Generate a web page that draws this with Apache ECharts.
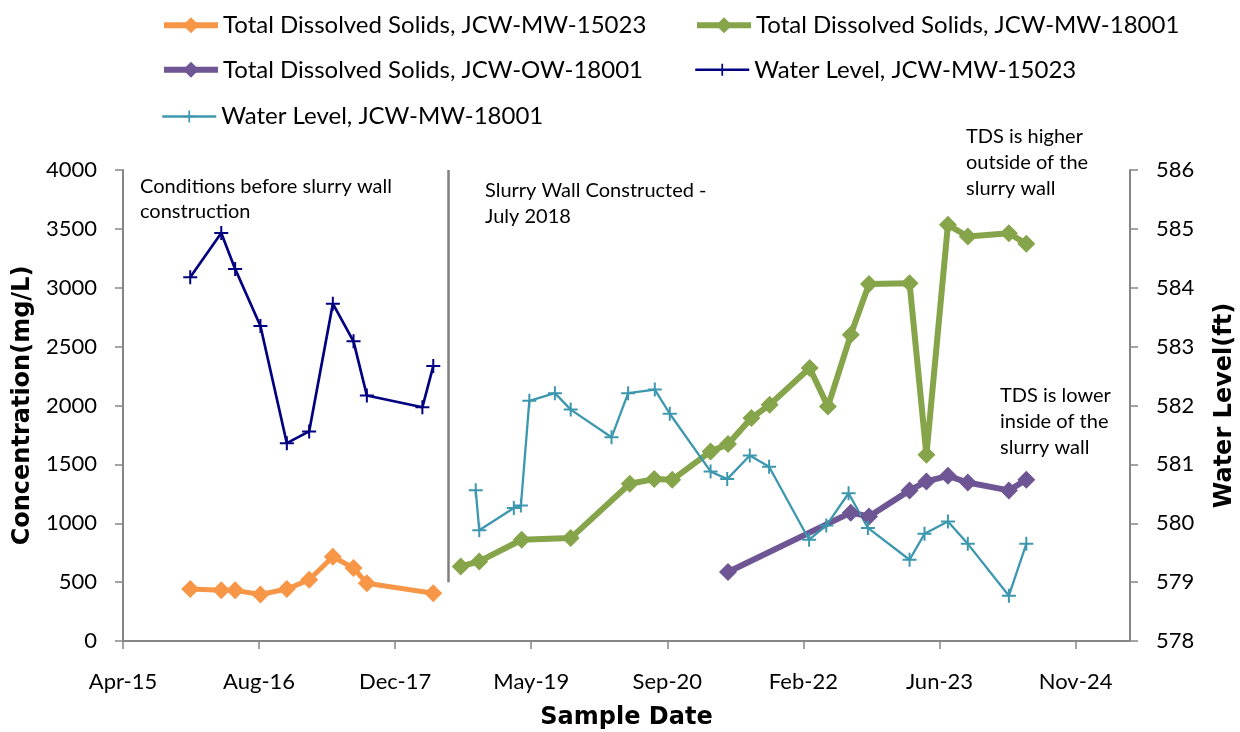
<!DOCTYPE html>
<html><head><meta charset="utf-8">
<script src="https://cdn.jsdelivr.net/npm/echarts@6/dist/echarts.min.js"></script>
<style>html,body{margin:0;padding:0;background:#fff}#c{width:1240px;height:732px}</style>
</head><body><div id="c"></div>
<script>
// ---- data ----
const tdsMW15023Dates = ['2015-12-09','2016-04-01','2016-05-22','2016-08-23','2016-11-28','2017-02-18','2017-05-16','2017-07-31','2017-09-18','2018-05-20'];
const tdsMW15023 = [441,430,430,395,441,520,715,620,490,405];

const tdsMW18001Dates = ['2018-08-29','2018-11-05','2019-04-10','2019-10-07','2020-05-11','2020-08-09','2020-10-14','2021-03-04','2021-05-07','2021-08-01','2021-10-07','2022-03-03','2022-05-09','2022-08-01','2022-10-07','2023-03-05','2023-05-06','2023-07-24','2023-10-05','2024-03-04','2024-05-07'];
const tdsMW18001 = [633,676,860,874,1335,1375,1369,1610,1672,1893,2006,2318,1991,2600,3031,3039,1581,3534,3435,3463,3373];

const tdsOW18001Dates = ['2021-05-07','2022-08-01','2022-10-07','2023-03-05','2023-05-06','2023-07-24','2023-10-05','2024-03-04','2024-05-07'];
const tdsOW18001 = [586,1090,1058,1279,1355,1403,1346,1279,1369];

const wlMW15023Dates = ['2015-12-09','2016-04-01','2016-05-22','2016-08-23','2016-11-28','2017-02-18','2017-05-16','2017-07-31','2017-09-18','2018-04-10','2018-05-20'];
const wlMW15023 = [584.18,584.93,584.32,583.35,581.36,581.56,583.73,583.09,582.17,581.97,582.67];

const wlMW18001Dates = ['2018-10-23','2018-11-05','2019-03-12','2019-04-07','2019-05-08','2019-08-10','2019-10-07','2020-03-05','2020-05-05','2020-08-11','2020-10-05','2021-03-04','2021-05-04','2021-07-26','2021-10-05','2022-03-01','2022-05-03','2022-07-24','2022-10-03','2023-03-05','2023-04-29','2023-07-24','2023-10-05','2024-03-04','2024-05-07'];
const wlMW18001 = [580.56,579.88,580.26,580.30,582.08,582.21,581.93,581.46,582.21,582.27,581.86,580.88,580.75,581.15,580.96,579.72,579.96,580.51,579.92,579.38,579.82,580.03,579.65,578.77,579.65];

const slurryWallDate = '2018-07-14';
const slurryWallRange = [500, 4000];

const seriesNames = ['Total Dissolved Solids, JCW-MW-15023','Total Dissolved Solids, JCW-MW-18001','Total Dissolved Solids, JCW-OW-18001','Water Level, JCW-MW-15023','Water Level, JCW-MW-18001'];
const axisStartDate = '2015-04-06';   // Apr-15 tick
const axisSpanDays = 3700;
const tickStepDays = 500;
const concTicks = [0, 4000, 500];
const levelTicks = [578, 586, 1];

// ---- helpers ----
const DAY = 86400000;
function utc(s){const p=s.split('-').map(Number);return Date.UTC(p[0],p[1]-1,p[2]);}
const base = utc(axisStartDate);
function dayOf(s){return Math.round((utc(s)-base)/DAY);}
function zip(d,v){return d.map((s,i)=>[dayOf(s),v[i]]);}
const MON=['Jan','Feb','Mar','Apr','May','Jun','Jul','Aug','Sep','Oct','Nov','Dec'];
function fmt(v){const d=new Date(base+v*DAY);return MON[d.getUTCMonth()]+'-'+String(d.getUTCFullYear()%100).padStart(2,'0');}
const xTicks=[];for(let v=0;v<=axisSpanDays;v+=tickStepDays)xTicks.push(v);

const PLUS='path://M0,6H14V8H0Z M6,0H8V14H6Z';
const C={orange:'#F79646',green:'#86A44A',purple:'#6E5594',navy:'#000080',teal:'#3D97AF'};
const axisGray='#868686';
const tickFont={fontFamily:'Lato',fontSize:22,color:'#000'};
const titleFont={fontFamily:'DejaVu Sans',fontWeight:'bold',fontSize:24,color:'#000'};

function leg(name,left,top,ih,lw){
  return {data:[name],left:left,top:top,itemWidth:54,itemHeight:ih,padding:0,
    selectedMode:false,textStyle:{fontFamily:'Lato',fontSize:24,color:'#000'},lineStyle:{width:lw}};
}

const chart=echarts.init(document.getElementById('c'),null,{renderer:'canvas'});
chart.setOption({
  animation:false,
  backgroundColor:'#fff',
  grid:{left:123,right:110,top:170,bottom:91,containLabel:false,outerBoundsMode:'none'},
  legend:[
    leg(seriesNames[0],161,13.2,20,6),
    leg(seriesNames[1],694,13.2,20,6),
    leg(seriesNames[2],161,57.8,20,6),
    leg(seriesNames[3],694,57.8,15,2.5),
    leg(seriesNames[4],161,104.5,15,2.5)
  ],
  xAxis:{type:'value',min:0,max:axisSpanDays,interval:tickStepDays,
    name:'Sample Date',nameLocation:'middle',nameGap:65,nameTextStyle:titleFont,
    axisLine:{lineStyle:{color:axisGray,width:2}},
    axisTick:{show:true,length:8,inside:false,lineStyle:{color:axisGray,width:1.5},customValues:xTicks},
    axisLabel:Object.assign({margin:30,formatter:fmt,customValues:xTicks},tickFont),
    splitLine:{show:false}},
  yAxis:[
    {type:'value',min:concTicks[0],max:concTicks[1],interval:concTicks[2],position:'left',
     name:'Concentration(mg/L)',nameLocation:'middle',nameGap:77,nameRotate:90,nameTextStyle:titleFont,
     axisLine:{show:true,lineStyle:{color:axisGray,width:2}},
     axisTick:{show:true,length:8,lineStyle:{color:axisGray,width:1.5}},
     axisLabel:Object.assign({margin:26,align:'right',formatter:v=>String(v)},tickFont),splitLine:{show:false}},
    {type:'value',min:levelTicks[0],max:levelTicks[1],interval:levelTicks[2],position:'right',
     name:'Water Level(ft)',nameLocation:'middle',nameGap:83,nameRotate:90,nameTextStyle:titleFont,
     axisLine:{show:true,lineStyle:{color:axisGray,width:2}},
     axisTick:{show:true,length:8,lineStyle:{color:axisGray,width:1.5}},
     axisLabel:Object.assign({margin:26,align:'left',formatter:v=>String(v)},tickFont),splitLine:{show:false}}
  ],
  series:[
    {name:seriesNames[0],type:'line',yAxisIndex:0,data:zip(tdsMW15023Dates,tdsMW15023),
     symbol:'diamond',symbolSize:18,showAllSymbol:true,lineStyle:{width:5,color:C.orange},itemStyle:{color:C.orange},
     markLine:{silent:true,symbol:'none',label:{show:false},lineStyle:{color:'#7f7f7f',width:2.5,type:'solid'},
       data:[[{coord:[dayOf(slurryWallDate),slurryWallRange[1]]},{coord:[dayOf(slurryWallDate),slurryWallRange[0]]}]]}},
    {name:seriesNames[1],type:'line',yAxisIndex:0,data:zip(tdsMW18001Dates,tdsMW18001),
     symbol:'diamond',symbolSize:18,showAllSymbol:true,lineStyle:{width:6,color:C.green},itemStyle:{color:C.green}},
    {name:seriesNames[2],type:'line',yAxisIndex:0,data:zip(tdsOW18001Dates,tdsOW18001),
     symbol:'diamond',symbolSize:18,showAllSymbol:true,lineStyle:{width:6,color:C.purple},itemStyle:{color:C.purple}},
    {name:seriesNames[3],type:'line',yAxisIndex:1,data:zip(wlMW15023Dates,wlMW15023),
     symbol:PLUS,symbolSize:14,showAllSymbol:true,lineStyle:{width:2.7,color:C.navy},itemStyle:{color:C.navy}},
    {name:seriesNames[4],type:'line',yAxisIndex:1,data:zip(wlMW18001Dates,wlMW18001),
     symbol:PLUS,symbolSize:14,showAllSymbol:true,lineStyle:{width:2.3,color:C.teal},itemStyle:{color:C.teal}}
  ],
  graphic:[
    {type:'text',left:140,top:174,silent:true,style:{text:'Conditions before slurry wall\nconstruction',font:'20px Lato',fill:'#000',lineHeight:25}},
    {type:'text',left:485,top:177,silent:true,style:{text:'Slurry Wall Constructed -\nJuly 2018',font:'20px Lato',fill:'#000',lineHeight:26.5}},
    {type:'text',left:966,top:124,silent:true,style:{text:'TDS is higher\noutside of the\nslurry wall',font:'20px Lato',fill:'#000',lineHeight:26}},
    {type:'text',left:1000,top:383,silent:true,style:{text:'TDS is lower\ninside of the\nslurry wall',font:'20px Lato',fill:'#000',lineHeight:26}}
  ]
});
</script></body></html>
